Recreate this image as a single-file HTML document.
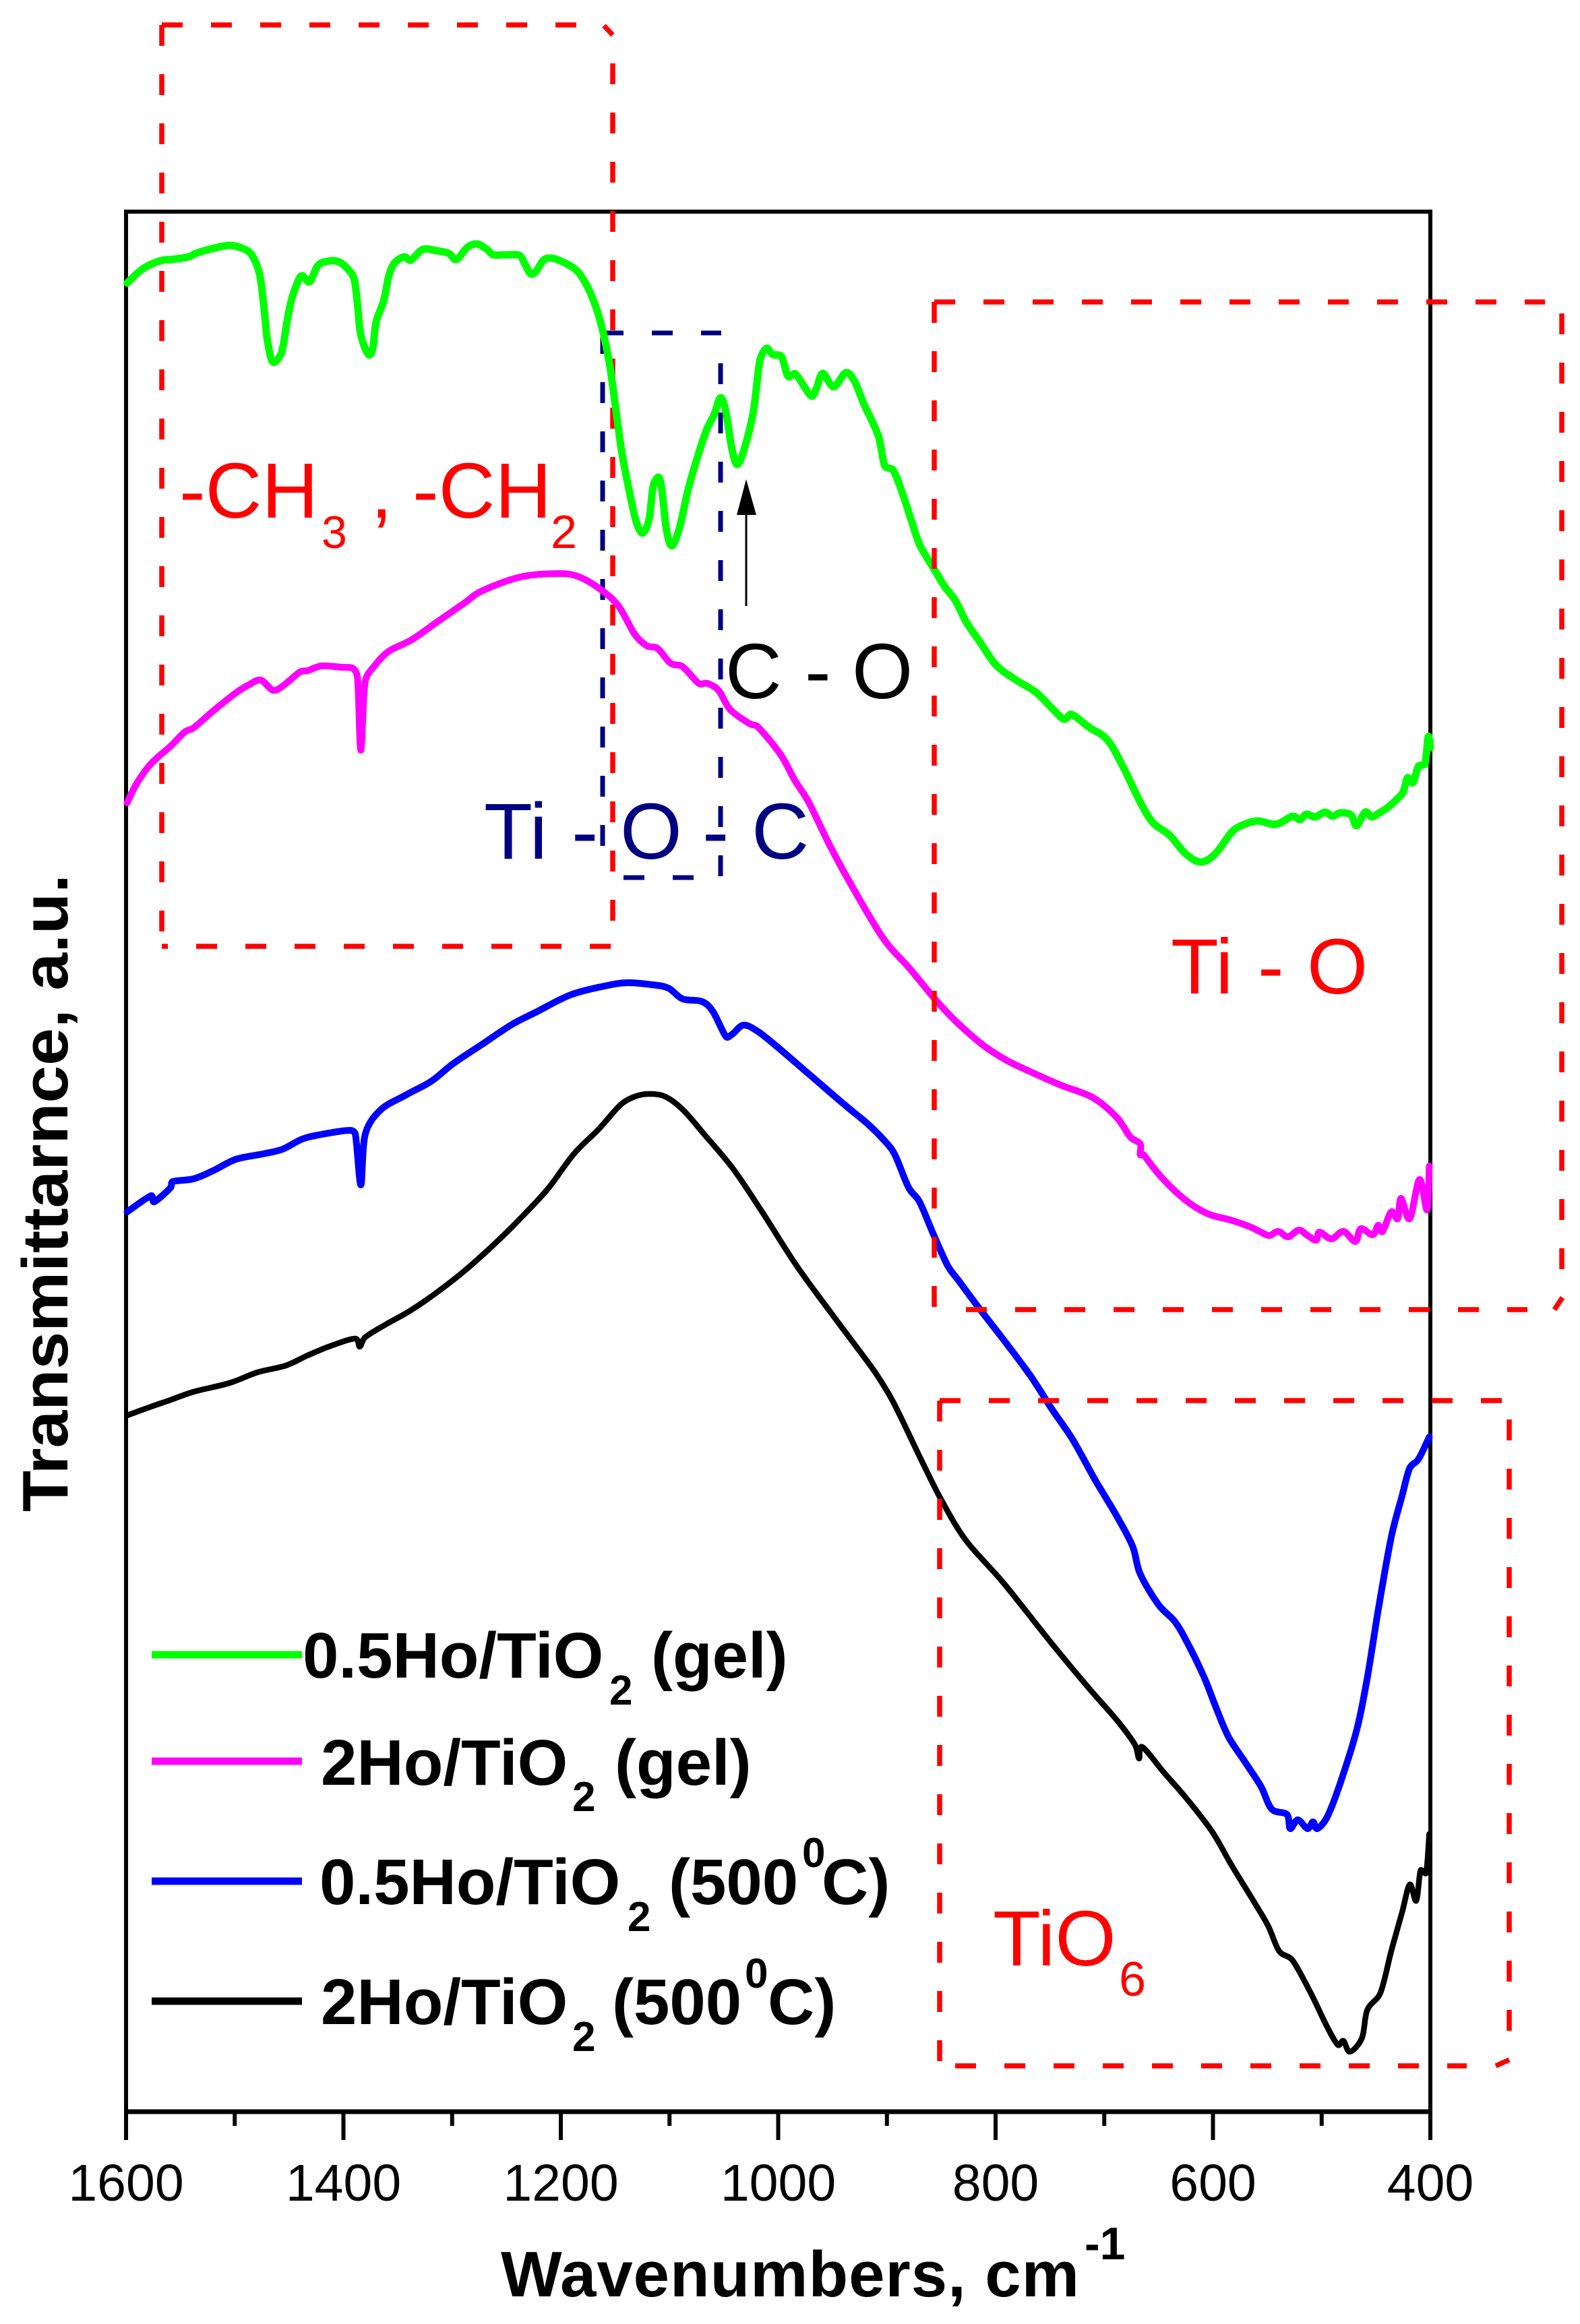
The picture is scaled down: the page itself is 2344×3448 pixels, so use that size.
<!DOCTYPE html>
<html lang="en">
<head>
<meta charset="utf-8">
<title>FTIR transmittance spectra</title>
<style>
html,body{margin:0;padding:0;background:#fff;width:2344px;height:3448px;overflow:hidden}
svg{display:block}
text{font-family:"Liberation Sans",sans-serif}
.b{font-weight:bold;fill:#000}
.red{fill:#f00}
.navy{fill:#000080}
.blk{fill:#000}
.rd{stroke:#f00;stroke-width:7.5;fill:none;stroke-dasharray:31 42}
.nv{stroke:#000080;stroke-width:7;fill:none;stroke-dasharray:31 42}
.rs{stroke:#f00;stroke-width:7.5;fill:none}
</style>
</head>
<body>
<svg id="chart" xmlns="http://www.w3.org/2000/svg" width="2344" height="3448" viewBox="0 0 2344 3448">
<rect x="0" y="0" width="2344" height="3448" fill="#fff"/>
<g id="axes"></g>

<g>
<path class="rd" d="M240,37H856"/>
<path class="rs" d="M896,38L909,52"/>
<path class="rd" d="M909,94V1368"/>
<path class="rd" d="M240,37V1384"/>
<path class="rd" d="M906,1404H240"/>
</g>
<g>
<path class="nv" d="M894,494H1070"/>
<path class="nv" d="M894,494V1290"/>
<path class="nv" d="M1069,539V1300"/>
<path class="nv" d="M1029,1302H894"/>
</g>

<g id="series"></g>

<g>
<path class="rd" d="M1386,448H2292"/>
<path class="rd" d="M1386,448V1940"/>
<path class="rd" d="M2317,465V1884"/>
<path class="rd" d="M1433,1943H2266"/>
<path class="rs" d="M2306,1943L2318,1925"/>
</g>
<g>
<path class="rd" d="M1394,2078H2228"/>
<path class="rd" d="M1394,2078V3060"/>
<path class="rd" d="M2239,2106V3015"/>
<path class="rd" d="M1417,3065H2176"/>
<path class="rs" d="M2219,3065L2239,3056"/>
</g>

<g>
<line x1="1107" y1="899" x2="1107" y2="750" stroke="#000" stroke-width="3"/>
<polygon points="1107,711 1122,764 1093,764" fill="#000"/>
</g>

<g class="red">
<text x="266" y="768" font-size="116">-CH</text>
<text x="477" y="813" font-size="68">3</text>
<text x="550" y="768" font-size="116">,</text>
<text x="612" y="768" font-size="116">-CH</text>
<text x="817" y="813" font-size="70">2</text>
</g>
<g class="navy">
<text x="718" y="1274" font-size="118">Ti</text>
<text x="848" y="1274" font-size="118">-</text>
<text x="920" y="1274" font-size="118">O</text>
<text x="1042" y="1274" font-size="118">-</text>
<text x="1115" y="1274" font-size="118">C</text>
</g>
<g class="blk">
<text x="1076" y="1036" font-size="116">C</text>
<text x="1194" y="1036" font-size="116">-</text>
<text x="1264" y="1036" font-size="116">O</text>
</g>
<g class="red">
<text x="1737" y="1474" font-size="116">Ti</text>
<text x="1866" y="1474" font-size="116">-</text>
<text x="1939" y="1474" font-size="116">O</text>
</g>
<g class="red">
<text x="1473" y="2916" font-size="116">TiO</text>
<text x="1660" y="2961" font-size="72">6</text>
</g>

<g>
<g class="b">
<line x1="225" x2="448" y1="2455" y2="2455" stroke="#00ff00" stroke-width="11"/>
<text x="449" y="2489" font-size="96">0.5Ho/TiO</text>
<text x="904" y="2529" font-size="62">2</text>
<text x="966" y="2489" font-size="96">(gel)</text>
</g>
<g class="b">
<line x1="225" x2="448" y1="2613" y2="2613" stroke="#ff00ff" stroke-width="11"/>
<text x="476" y="2648" font-size="96">2Ho/TiO</text>
<text x="849" y="2687" font-size="62">2</text>
<text x="912" y="2648" font-size="96">(gel)</text>
</g>
<g class="b">
<line x1="225" x2="448" y1="2791" y2="2791" stroke="#0000ff" stroke-width="11"/>
<text x="474" y="2825" font-size="96">0.5Ho/TiO</text>
<text x="931" y="2865" font-size="62">2</text>
<text x="992" y="2825" font-size="96">(500</text>
<text x="1190" y="2770" font-size="62">0</text>
<text x="1219" y="2825" font-size="96">C)</text>
</g>
<g class="b">
<line x1="225" x2="448" y1="2969" y2="2969" stroke="#000" stroke-width="11"/>
<text x="476" y="3003" font-size="96">2Ho/TiO</text>
<text x="849" y="3043" font-size="62">2</text>
<text x="908" y="3003" font-size="96">(500</text>
<text x="1105" y="2949" font-size="62">0</text>
<text x="1139" y="3003" font-size="96">C)</text>
</g>
</g>

<g class="b">
<text x="743" y="3407" font-size="96" textLength="858">Wavenumbers, cm</text>
<text x="1609" y="3352" font-size="68">-1</text>
</g>
<text class="b" transform="translate(100,2243) rotate(-90)" x="0" y="0" font-size="96" textLength="946" lengthAdjust="spacingAndGlyphs">Transmittarnce, a.u.</text>
</svg>

<script>
var majorTicks = [1600, 1400, 1200, 1000, 800, 600, 400];
var minorTicks = [1500, 1300, 1100, 900, 700, 500];
var tickLabels = ["1600", "1400", "1200", "1000", "800", "600", "400"];

var wnGreen = [1599,1588,1577,1566,1558,1542,1536,1521,1505,1492,1484,1477,1473,1470,1465,1457,1452,1448,1442,1438,1431,1424,1416,1405,1396,1390,1387,1384,1377,1373,1370,1363,1358,1353,1344,1338,1327,1314,1303,1296,1286,1277,1268,1262,1249,1238,1233,1228,1223,1216,1209,1199,1185,1175,1167,1161,1155,1149,1144,1138,1131,1125,1119,1115,1110,1107,1103,1098,1091,1083,1075,1066,1059,1053,1048,1043,1038,1032,1023,1017,1011,1005,997,991,984,970,965,959,949,938,930,921,908,902,894,884,871,864,856,847,837,827,815,800,783,763,748,737,730,714,697,682,667,655,640,625,611,598,583,574,559,542,527,520,514,506,497,490,483,473,468,460,454,448,440,431,425,421,416,411,405,402,400];
var tGreen = [2713,2730,2741,2747,2748,2752,2757,2764,2769,2764,2754,2725,2674,2629,2596,2610,2655,2687,2715,2724,2715,2738,2745,2745,2734,2718,2680,2636,2607,2616,2655,2687,2725,2743,2752,2747,2763,2761,2757,2748,2766,2771,2763,2755,2755,2754,2741,2727,2730,2747,2750,2745,2731,2706,2674,2639,2591,2521,2463,2412,2361,2342,2361,2412,2425,2406,2349,2323,2349,2406,2451,2495,2518,2543,2521,2470,2444,2463,2521,2597,2616,2607,2604,2575,2578,2546,2556,2579,2559,2580,2568,2533,2487,2442,2435,2393,2329,2308,2287,2263,2242,2210,2182,2147,2126,2106,2082,2066,2073,2054,2035,1993,1943,1912,1894,1866,1854,1866,1898,1908,1915,1910,1922,1917,1925,1921,1928,1922,1927,1924,1908,1928,1921,1926,1934,1947,1958,1979,1972,1996,2000,2040,2024];

var wnMagenta = [1599,1590,1577,1559,1546,1538,1520,1499,1487,1476,1465,1456,1440,1433,1420,1402,1391,1387,1384,1380,1371,1358,1337,1314,1289,1273,1237,1201,1183,1163,1147,1132,1121,1111,1099,1088,1073,1065,1055,1044,1026,1019,998,985,972,952,931,903,879,857,838,812,790,768,740,711,689,676,667,667,664,651,635,619,603,584,566,556,548,540,531,521,513,505,502,491,480,469,464,453,448,444,436,430,427,419,410,403,401];
var tMagenta = [1942,1971,2000,2026,2047,2053,2078,2105,2117,2124,2109,2115,2136,2138,2145,2143,2141,2126,2020,2122,2146,2167,2184,2210,2238,2256,2277,2282,2277,2258,2234,2192,2175,2171,2149,2144,2119,2119,2109,2080,2059,2055,2014,1976,1943,1877,1815,1740,1696,1653,1620,1583,1560,1543,1523,1505,1476,1446,1436,1420,1420,1393,1366,1345,1331,1323,1313,1305,1300,1306,1298,1308,1300,1293,1305,1295,1306,1291,1310,1301,1315,1306,1335,1325,1355,1325,1383,1338,1403];

var wnBlue = [1599,1577,1574,1559,1557,1538,1520,1499,1474,1456,1438,1420,1394,1389,1384,1380,1366,1343,1319,1299,1273,1245,1222,1191,1160,1139,1116,1101,1088,1070,1060,1048,1042,1032,1019,1001,970,939,918,903,893,880,870,857,844,834,817,793,768,748,729,709,689,674,667,650,635,623,608,598,586,571,556,546,532,529,522,513,508,504,495,483,468,458,448,436,426,419,411,401];
var tBlue = [1335,1359,1350,1371,1380,1384,1396,1413,1421,1428,1443,1450,1456,1450,1375,1450,1486,1508,1529,1555,1583,1613,1632,1657,1670,1675,1672,1667,1651,1647,1632,1595,1599,1612,1603,1580,1537,1494,1466,1442,1421,1371,1350,1301,1255,1233,1196,1146,1092,1042,997,939,885,839,798,752,727,694,644,603,557,520,483,449,441,420,433,420,430,420,437,487,565,644,744,852,914,955,968,1001];

var wnBlack = [1599,1577,1559,1538,1505,1479,1453,1433,1412,1389,1385,1380,1361,1340,1317,1289,1258,1232,1211,1188,1165,1145,1132,1119,1104,1088,1068,1042,1016,983,949,913,898,888,866,849,827,793,748,714,689,672,668,665,645,625,601,583,561,549,539,527,510,495,485,480,474,463,458,446,436,426,419,413,409,404,401];
var tBlack = [1033,1046,1056,1068,1081,1097,1107,1122,1136,1147,1135,1149,1168,1187,1212,1247,1292,1334,1371,1421,1458,1494,1506,1510,1506,1487,1450,1400,1338,1255,1180,1102,1064,1033,959,905,847,785,694,628,582,545,524,541,503,466,416,366,308,275,238,225,176,126,99,105,89,109,151,176,238,296,337,313,358,354,412];

var xMin = 1600, xMax = 400, yMin = 0, yMax = 2819;
var plotLeft = 187, plotRight = 2122, plotTop = 314, plotBottom = 3133;

function xScale(w) {
  return plotLeft + (xMin - w) / (xMin - xMax) * (plotRight - plotLeft);
}
function yScale(t) {
  return plotBottom - (t - yMin) / (yMax - yMin) * (plotBottom - plotTop);
}

var NS = "http://www.w3.org/2000/svg";
var axesG = document.getElementById("axes");
var seriesG = document.getElementById("series");

function makeLine(x1, y1, x2, y2, w) {
  var l = document.createElementNS(NS, "line");
  l.setAttribute("x1", x1);
  l.setAttribute("y1", y1);
  l.setAttribute("x2", x2);
  l.setAttribute("y2", y2);
  l.setAttribute("stroke", "#000");
  l.setAttribute("stroke-width", w);
  return l;
}

var frameTop = makeLine(plotLeft - 3, plotTop, plotRight + 3, plotTop, 6);


axesG.appendChild(frameTop);

var frameRight = makeLine(plotRight, plotTop, plotRight, plotBottom, 6);


axesG.appendChild(frameRight);

var frameLeft = makeLine(plotLeft, plotTop, plotLeft, plotBottom, 6);


axesG.appendChild(frameLeft);

var frameBottom = makeLine(plotLeft - 3, plotBottom, plotRight + 3, plotBottom, 7);


axesG.appendChild(frameBottom);

majorTicks.forEach(function (w, i) {
  var tick = makeLine(xScale(w), plotBottom, xScale(w), plotBottom + 42, 6);
  
  
  axesG.appendChild(tick);
  var label = document.createElementNS(NS, "text");
  label.setAttribute("x", xScale(w));
  label.setAttribute("y", 3265);
  label.setAttribute("text-anchor", "middle");
  label.setAttribute("font-size", "77");
  label.setAttribute("fill", "#000");
  label.textContent = tickLabels[i];
  
  
  axesG.appendChild(label);
});

minorTicks.forEach(function (w) {
  var tick = makeLine(xScale(w), plotBottom, xScale(w), plotBottom + 21, 6);
  
  
  axesG.appendChild(tick);
});

function smoothPath(wn, t) {
  var pts = [];
  var n = Math.min(wn.length, t.length);
  for (var i = 0; i < n; i++) {
    pts.push([xScale(wn[i]), yScale(t[i])]);
  }
  var tan = pts.map(function (p, i) {
    var a = pts[Math.max(i - 1, 0)], b = pts[Math.min(i + 1, n - 1)];
    return [(b[0] - a[0]) / 6, (b[1] - a[1]) / 6];
  });
  function limit(v, len) {
    var m = Math.sqrt(v[0] * v[0] + v[1] * v[1]) || 1;
    var k = Math.min(1, 0.4 * len / m);
    return [v[0] * k, v[1] * k];
  }
  var d = "M" + pts[0][0].toFixed(1) + "," + pts[0][1].toFixed(1);
  for (var j = 1; j < n; j++) {
    var p0 = pts[j - 1], p1 = pts[j];
    var len = Math.sqrt(Math.pow(p1[0] - p0[0], 2) + Math.pow(p1[1] - p0[1], 2));
    var t0 = limit(tan[j - 1], len), t1 = limit(tan[j], len);
    d += "C" + (p0[0] + t0[0]).toFixed(1) + "," + (p0[1] + t0[1]).toFixed(1) + " " +
         (p1[0] - t1[0]).toFixed(1) + "," + (p1[1] - t1[1]).toFixed(1) + " " +
         p1[0].toFixed(1) + "," + p1[1].toFixed(1);
  }
  return d;
}
function styleCurve(p, color, width, wn, t) {
  p.setAttribute("d", smoothPath(wn, t));
  p.setAttribute("fill", "none");
  p.setAttribute("stroke", color);
  p.setAttribute("stroke-width", width);
  p.setAttribute("stroke-linejoin", "round");
  p.setAttribute("stroke-linecap", "round");
  seriesG.appendChild(p);
}

var curveBlack = document.createElementNS(NS, "path");


styleCurve(curveBlack, "#000000", 8.5, wnBlack, tBlack);

var curveBlue = document.createElementNS(NS, "path");


styleCurve(curveBlue, "#0000ff", 10, wnBlue, tBlue);

var curveMagenta = document.createElementNS(NS, "path");


styleCurve(curveMagenta, "#ff00ff", 10, wnMagenta, tMagenta);

var curveGreen = document.createElementNS(NS, "path");


styleCurve(curveGreen, "#00ff00", 11, wnGreen, tGreen);
</script>
</body>
</html>
